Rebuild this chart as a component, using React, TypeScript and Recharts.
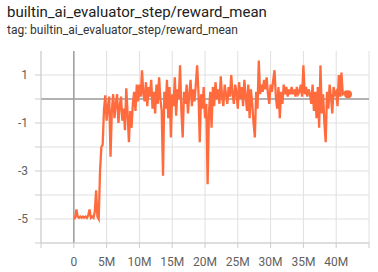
import React from 'react';
import { LineChart, Line, XAxis, YAxis, CartesianGrid, ReferenceLine, ReferenceDot } from 'recharts';

const TITLE = 'builtin_ai_evaluator_step/reward_mean';
const SUBTITLE = 'tag: builtin_ai_evaluator_step/reward_mean';

const STEP_SIZE = 200000;
const rewardMean: number[] = [
  -5.0, -4.95, -4.6, -4.9, -4.95, -4.9, -4.95, -4.9, -4.95, -4.9,
  -4.95, -4.85, -4.6, -4.95, -4.9, -4.95, -4.7, -3.8, -4.9, -5.0,
  -3.0, -2.0, -1.9, -0.45, 0.15, -0.9, -0.3, 0.1, -2.4, -0.5,
  0.2, -0.8, -0.2, 0.2, -1.0, -0.3, 0.1, -0.9, -0.4, -1.3,
  0.45, -0.6, -1.8, -0.5, -1.2, -0.2, 0.3, -0.5, 0.6, -0.1,
  0.6, 0.1, 1.2, 0.2, -0.1, 0.7, -0.3, 0.5, 0.1, 0.8,
  -0.4, 0.3, -0.6, 0.6, -0.2, 0.9, 0.0, -0.5, -3.2, 0.3,
  -0.4, 0.8, -0.8, 0.5, -1.6, 0.2, -0.3, 0.9, -0.7, 0.4,
  0.0, 1.4, -0.5, -1.6, 0.3, -0.2, 0.6, -0.6, 0.2, 0.8,
  -0.3, 0.4, -0.1, 0.6, 1.4, 0.3, -1.8, 0.2, -0.4, 0.5,
  -0.8, -0.2, -3.55, -0.6, 0.3, -1.2, 0.5, -0.3, 0.7, 0.0,
  0.4, -0.2, 0.95, 0.1, -0.3, 0.6, 0.2, -0.2, 0.5, 0.1,
  1.0, 0.2, -0.2, 0.6, 0.3, -0.4, 0.7, 0.0, 0.5, -0.3,
  0.8, 0.1, -0.5, 0.6, -0.8, 0.4, -0.2, -1.0, -1.6, 0.3,
  -0.4, 1.6, 0.2, 0.6, 0.3, 0.8, 0.4, 0.9, 0.2, -0.2,
  0.6, 0.3, 0.8, 1.2, 0.1, -0.4, 0.5, -0.8, 0.3, -0.2,
  0.6, 0.2, 0.5, 0.1, 0.4, 0.2, 0.5, 0.2, 0.4, 0.1,
  0.5, 0.2, 0.3, 0.6, 0.1, 1.4, 0.2, 0.5, 0.1, 0.4,
  0.2, -0.2, 0.6, -0.5, 0.3, -0.8, 0.5, -1.2, 1.4, -0.6,
  0.2, -1.0, -1.8, 0.3, -0.4, 0.6, 0.1, -0.6, 0.5, 0.2,
  0.3, -0.3, 1.0, 0.1, 1.1, 0.2, 0.25, 0.3, 0.2, 0.2,
];

const xTicks = [-5e6, 0, 5e6, 10e6, 15e6, 20e6, 25e6, 30e6, 35e6, 40e6, 45e6];
const xLabels = ['', '0', '5M', '10M', '15M', '20M', '25M', '30M', '35M', '40M', ''];
const yTicks = [-6, -5, -4, -3, -2, -1, 0, 1];
const yLabels = ['', '-5', '', '-3', '', '-1', '', '1'];

const data = rewardMean.map((v, i) => ({ step: i * STEP_SIZE, value: v }));
const last = data[data.length - 1];

const FONT = 'Roboto, "Noto Sans", sans-serif';
const LINE = '#ff6b3d';

export default function App() {
  return (
    <div style={{ position: 'fixed', left: 0, top: 0, width: 378, height: 272, background: '#fff', fontFamily: FONT }}>
      <div style={{ position: 'absolute', left: 7, top: 3, fontSize: 15, color: '#212121', whiteSpace: 'nowrap' }}>{TITLE}</div>
      <div style={{ position: 'absolute', left: 7, top: 23, fontSize: 12, color: '#333333', whiteSpace: 'nowrap' }}>{SUBTITLE}</div>
      <div style={{ position: 'absolute', left: 0, top: 0 }}>
        <LineChart width={378} height={272} data={data} margin={{ top: 51, right: 9, bottom: 0, left: 0 }}>
          <CartesianGrid stroke="#e0e0e0" strokeWidth={1} horizontalValues={yTicks} verticalValues={xTicks} />
          <XAxis
            dataKey="step"
            type="number"
            domain={[-5e6, 45e6]}
            ticks={xTicks}
            tickFormatter={(v: number) => xLabels[xTicks.indexOf(v)] ?? ''}
            height={29}
            tickSize={5}
            tickMargin={9}
            stroke="#cccccc"
            tick={{ fill: '#616161', fontSize: 12, fontFamily: FONT }}
            interval={0}
            allowDataOverflow
          />
          <YAxis
            type="number"
            domain={[-6, 2]}
            ticks={yTicks}
            tickFormatter={(v: number) => yLabels[yTicks.indexOf(v)] ?? ''}
            width={41}
            tickSize={6}
            tickMargin={7}
            stroke="#cccccc"
            tick={{ fill: '#616161', fontSize: 12, fontFamily: FONT }}
            interval={0}
            allowDataOverflow
          />
          <ReferenceLine x={0} stroke="#9e9e9e" strokeWidth={1.5} />
          <ReferenceLine y={0} stroke="#9e9e9e" strokeWidth={1.5} />
          <Line
            type="linear"
            dataKey="value"
            stroke={LINE}
            strokeWidth={2.3}
            dot={false}
            isAnimationActive={false}
          />
          <ReferenceDot x={last.step} y={last.value} r={4} fill={LINE} stroke="none" />
        </LineChart>
      </div>
    </div>
  );
}
